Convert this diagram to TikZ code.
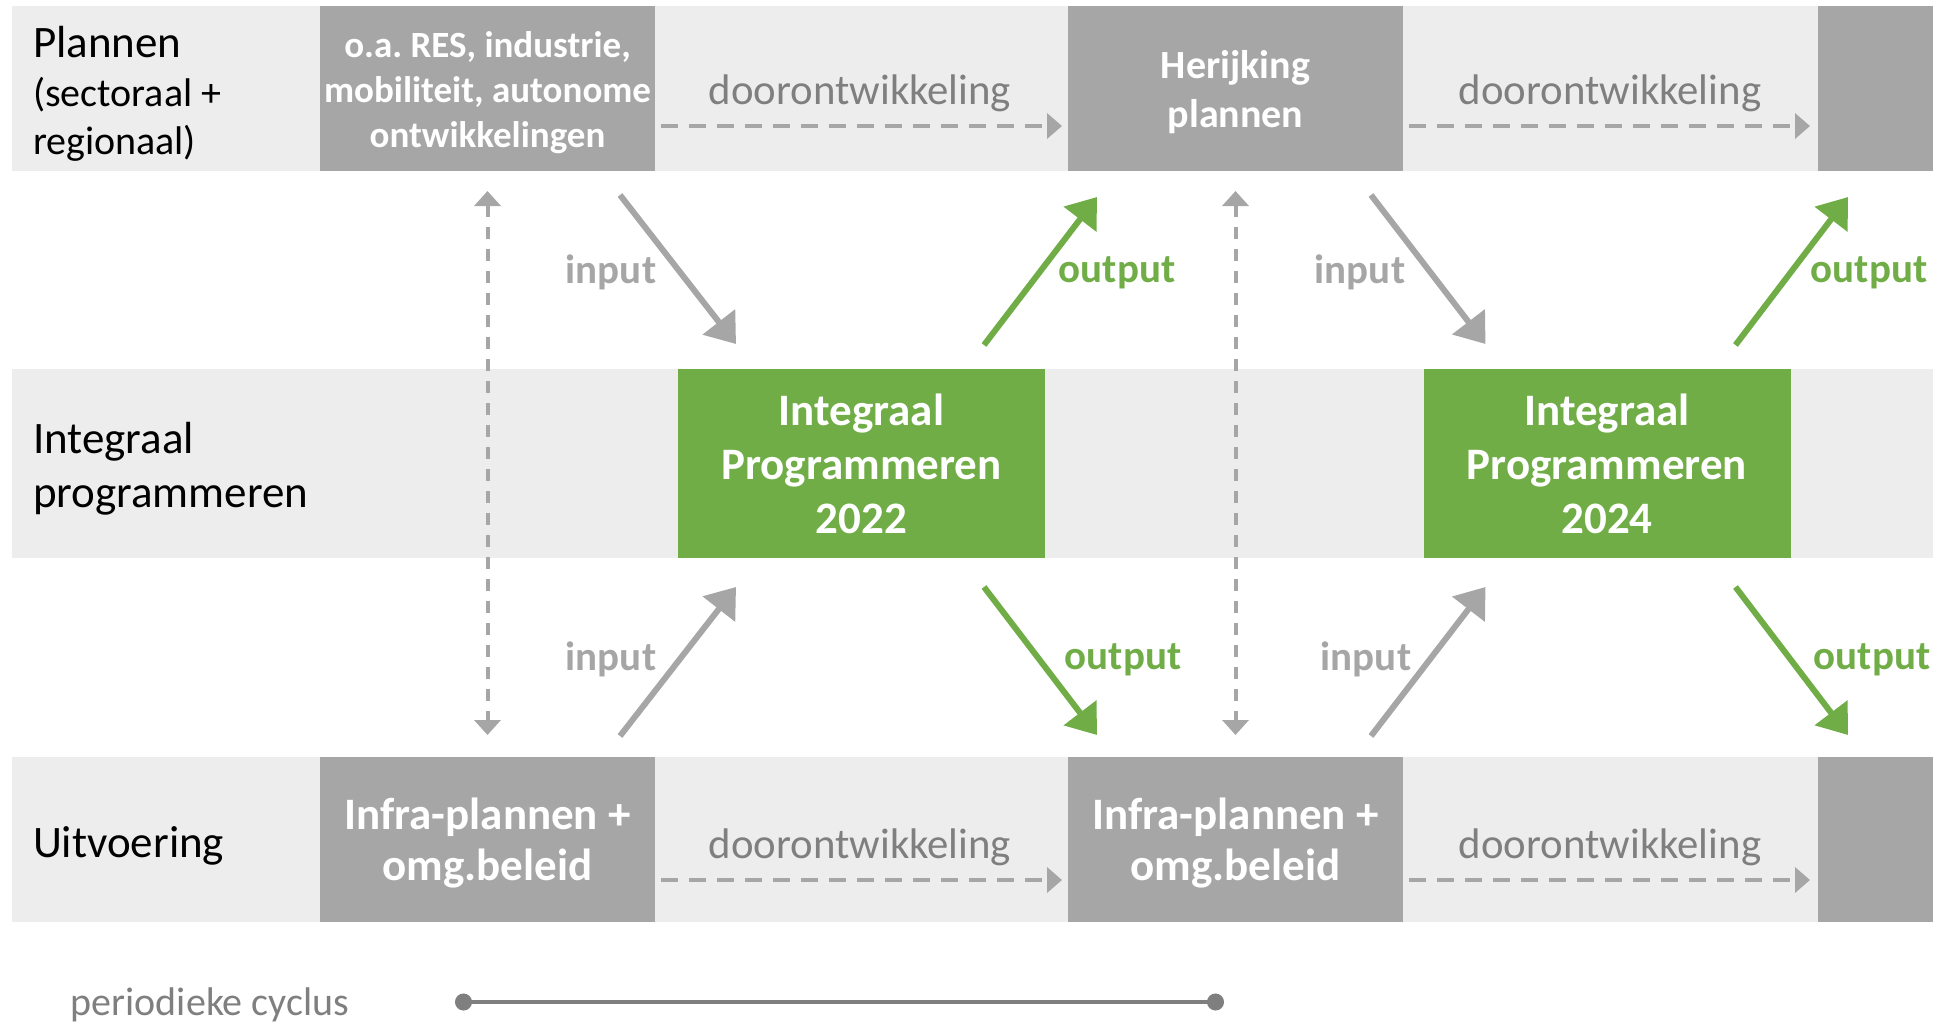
\documentclass[tikz,border=0pt]{standalone}
\usepackage{fontspec}
\setmainfont{Carlito}
\usetikzlibrary{arrows.meta}
\usetikzlibrary{positioning}
\definecolor{bandgrey}{HTML}{EDEDED}
\definecolor{boxgrey}{HTML}{A6A6A6}
\definecolor{progreen}{HTML}{70AD47}
\definecolor{devgrey}{HTML}{7F7F7F}
\tikzset{every node/.style={inner sep=0pt, outer sep=0pt}}
\tikzset{
  greybox/.style={rectangle,fill=boxgrey,minimum width=167.5pt,minimum height=82.5pt},
  boxtext/.style={text=white,align=center,font=\bfseries\fontsize{22.5}{25.5}\selectfont},
  greenbox/.style={rectangle,fill=progreen,text=white,minimum width=183.5pt,minimum height=94.5pt,align=center,font=\bfseries\fontsize{22.5}{27}\selectfont},
  rowlabel/.style={anchor=west,align=left,font=\fontsize{22.5}{27}\selectfont},
  devlabel/.style={text=devgrey,font=\fontsize{21.4}{25}\selectfont},
  inlabel/.style={text=boxgrey,font=\bfseries\fontsize{20.5}{25}\selectfont},
  outlabel/.style={text=progreen,font=\bfseries\fontsize{20.5}{25}\selectfont},
  devarrow/.style={draw=boxgrey,line width=2pt,dash pattern=on 8.5pt off 5.5pt,-{Triangle[length=7.5pt,width=12.5pt]}},
  cyclearrow/.style={draw=boxgrey,line width=2pt,dash pattern=on 6pt off 5pt,{Triangle[length=7.5pt,width=13pt]}-{Triangle[length=7.5pt,width=13pt]}},
  inarrow/.style={draw=boxgrey,line width=3pt,-{Triangle[length=14pt,width=20pt]}},
  outarrow/.style={draw=progreen,line width=3pt,-{Triangle[length=14pt,width=20pt]}}
}

\begin{document}
\begin{tikzpicture}[x=0.5pt,y=-0.5pt]
    \useasboundingbox (0,0) rectangle (1933,1023);

    % bands
    \fill[bandgrey] (12,6) rectangle (1933,171);
    \fill[bandgrey] (12,369) rectangle (1933,558);
    \fill[bandgrey] (12,757) rectangle (1933,922);

    \node[rowlabel,font=\fontsize{22.5}{24.4}\selectfont] (PlanLabel) at (33,94) {Plannen\\\fontsize{20}{23.5}\selectfont(sectoraal +\\\fontsize{20}{23.5}\selectfont regionaal)};
    \node[rowlabel] (ProgLabel) at (33,469) {Integraal\\programmeren};
    \node[rowlabel] (UitvLabel) at (33,846) {Uitvoering};

    \node[greybox] (PlanBox1) at (487.5,88.5) {};
    \node[boxtext,font=\bfseries\fontsize{18.5}{22.5}\selectfont] (PlanText1) at ([yshift=-1.85pt]PlanBox1.center) {o.a.\ RES, industrie,\\mobiliteit, autonome\\ontwikkelingen};
    \node[greybox] (PlanBox2) at (1235.5,88.5) {};
    \node[boxtext,font=\bfseries\fontsize{20}{24.5}\selectfont] (PlanText2) at ([yshift=-2pt]PlanBox2.center) {Herijking\\plannen};
    \node[greybox,minimum width=57.5pt] (PlanBox3) at (1875.5,88.5) {};

    \node[greenbox] (ProgBox1) at (861.5,463.5) {Integraal\\Programmeren\\2022};
    \node[greenbox] (ProgBox2) at (1607,463.5) {Integraal\\Programmeren\\2024};

    \node[greybox] (UitvBox1) at (487.5,839.5) {};
    \node[boxtext] (UitvText1) at ([yshift=-1.75pt]UitvBox1.center) {Infra-plannen +\\omg.beleid};
    \node[greybox] (UitvBox2) at (1235.5,839.5) {};
    \node[boxtext] (UitvText2) at ([yshift=-1.75pt]UitvBox2.center) {Infra-plannen +\\omg.beleid};
    \node[greybox,minimum width=57.5pt] (UitvBox3) at (1875.5,839.5) {};

    % doorontwikkeling
    \node[devlabel] (DevPlan1) at (860,93) {doorontwikkeling};
    \node[devlabel] (DevPlan2) at (1610,93) {doorontwikkeling};
    \node[devlabel] (DevUitv1) at (860,847) {doorontwikkeling};
    \node[devlabel] (DevUitv2) at (1610,847) {doorontwikkeling};
    \draw[devarrow] ([xshift=3pt]PlanBox1.east |- 0,126) -- ([xshift=-3pt]PlanBox2.west |- 0,126);
    \draw[devarrow] ([xshift=3pt]PlanBox2.east |- 0,126) -- ([xshift=-4pt]PlanBox3.west |- 0,126);
    \draw[devarrow] ([xshift=3pt]UitvBox1.east |- 0,880) -- ([xshift=-3pt]UitvBox2.west |- 0,880);
    \draw[devarrow] ([xshift=3pt]UitvBox2.east |- 0,880) -- ([xshift=-4pt]UitvBox3.west |- 0,880);

    % periodieke koppeling
    \draw[cyclearrow] ([yshift=-10pt]PlanBox1.south) -- ([yshift=11pt]UitvBox1.north);
    \draw[cyclearrow] ([yshift=-10pt]PlanBox2.south) -- ([yshift=11pt]UitvBox2.north);

    % input / output
    \draw[inarrow] ([shift={(-35,24)}]PlanBox1.south east) -- ([shift={(58,-25)}]ProgBox1.north west);
    \draw[outarrow] ([shift={(-61,-24)}]ProgBox1.north east) -- ([shift={(29,26)}]PlanBox2.south west);
    \draw[inarrow] ([shift={(-35,-21)}]UitvBox1.north east) -- ([shift={(58,29)}]ProgBox1.south west);
    \draw[outarrow] ([shift={(-61,29)}]ProgBox1.south east) -- ([shift={(29,-22)}]UitvBox2.north west);

    \draw[inarrow] ([shift={(-32,24)}]PlanBox2.south east) -- ([shift={(62,-25)}]ProgBox2.north west);
    \draw[outarrow] ([shift={(-55,-24)}]ProgBox2.north east) -- ([shift={(30,26)}]PlanBox3.south west);
    \draw[inarrow] ([shift={(-32,-21)}]UitvBox2.north east) -- ([shift={(62,29)}]ProgBox2.south west);
    \draw[outarrow] ([shift={(-55,29)}]ProgBox2.south east) -- ([shift={(30,-22)}]UitvBox3.north west);

    \node[inlabel] (InTop1) at (611,272.5) {input};
    \node[outlabel] (OutTop1) at (1117,272.5) {output};
    \node[inlabel] (InTop2) at (1360,272.5) {input};
    \node[outlabel] (OutTop2) at (1869,272.5) {output};
    \node[inlabel] (InBot1) at (611,659.5) {input};
    \node[outlabel] (OutBot1) at (1123,659.5) {output};
    \node[inlabel] (InBot2) at (1366,659.5) {input};
    \node[outlabel] (OutBot2) at (1872,659.5) {output};

    % cyclus
    \node[text=devgrey,font=\fontsize{20}{24}\selectfont] (CycleLabel) at (210,1005) {periodieke cyclus};
    \coordinate (CycleStart) at (455,1002);
    \coordinate (CycleEnd) at (1224,1002);
    \draw[draw=devgrey,line width=1.75pt,{Circle[length=8.5pt]}-{Circle[length=8.5pt]}] (CycleStart) -- (CycleEnd);

\end{tikzpicture}
\end{document}
